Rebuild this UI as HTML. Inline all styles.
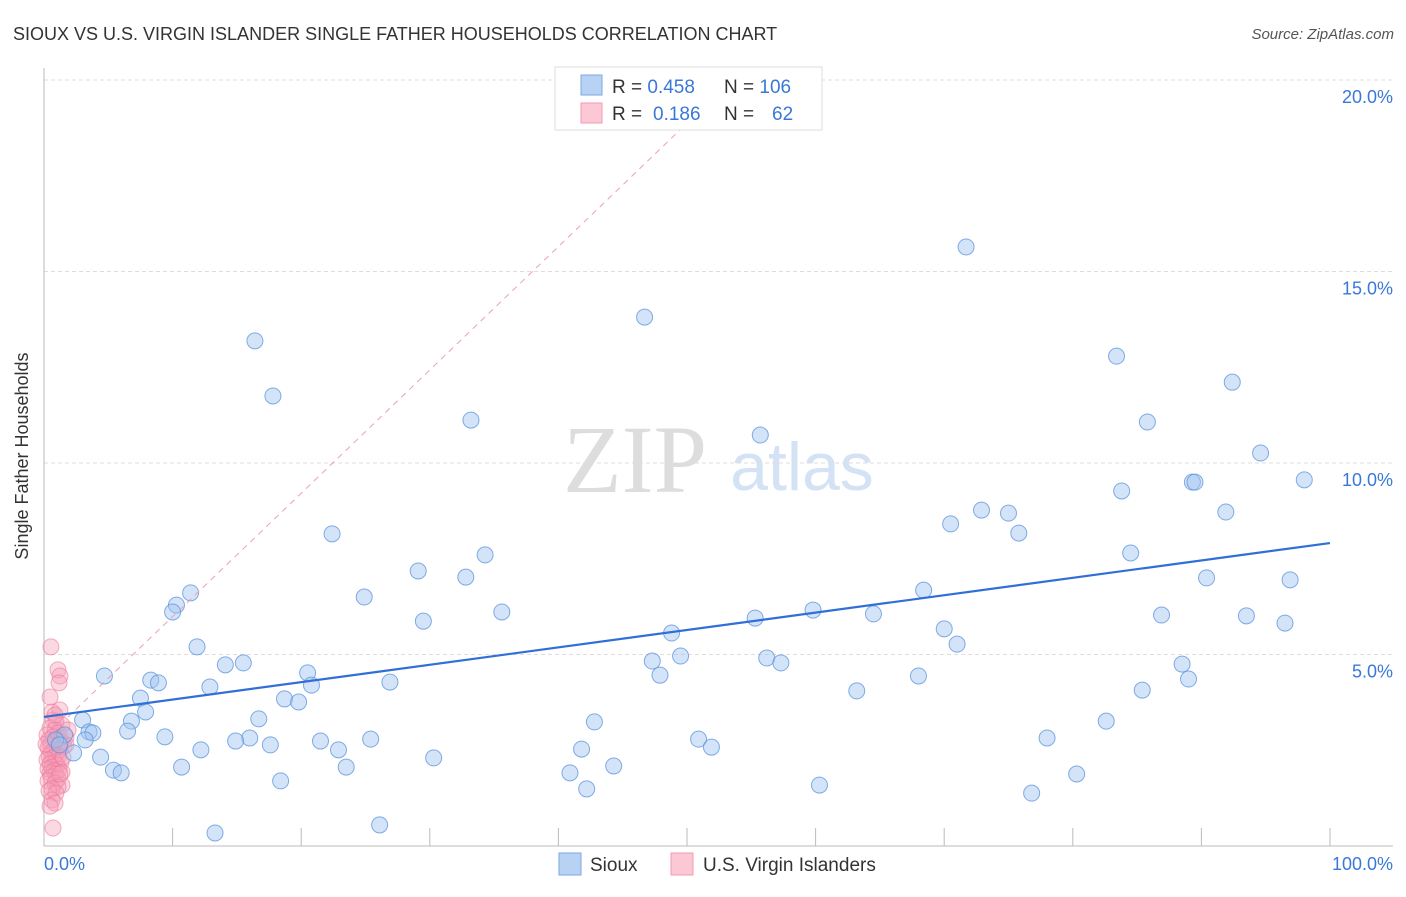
<!DOCTYPE html>
<html><head><meta charset="utf-8"><style>
body{margin:0;background:#fff;width:1406px;height:892px;overflow:hidden;font-family:"Liberation Sans",sans-serif}
svg text{font-family:"Liberation Sans",sans-serif}
</style></head><body>
<svg id="chart" width="1406" height="892">
<text x="13" y="40" font-size="18" fill="#333">SIOUX VS U.S. VIRGIN ISLANDER SINGLE FATHER HOUSEHOLDS CORRELATION CHART</text>
<text x="1394" y="39" font-size="15" fill="#555" font-style="italic" text-anchor="end">Source: ZipAtlas.com</text>
<text x="635" y="492" font-size="96" fill="#ddd" font-family="Liberation Serif" text-anchor="middle" style="font-family:'Liberation Serif',serif">ZIP</text>
<text x="802" y="490" font-size="68" fill="#d3e2f5" text-anchor="middle">atlas</text>
<g id="grid"></g>
<line x1="44" y1="68" x2="44" y2="846" stroke="#bbb"/>
<line x1="44" y1="846" x2="1393" y2="846" stroke="#bbb"/>
<g id="ticks"></g>
<text x="28" y="456" font-size="18" fill="#333" text-anchor="middle" transform="rotate(-90 28 456)">Single Father Households</text>
<text x="44" y="870" font-size="18" fill="#3a78d8">0.0%</text>
<text x="1393" y="870" font-size="18" fill="#3a78d8" text-anchor="end">100.0%</text>
<g id="pinkpts"></g><g id="bluepts"></g><g id="lines"></g>
<g>
<rect x="555" y="67" width="267" height="63" fill="#fff" stroke="#ddd"/>
<rect x="581" y="75" width="21" height="20" fill="#b8d2f3" stroke="#7aa8e6"/>
<rect x="581" y="103" width="21" height="20" fill="#fcc8d6" stroke="#f09ab4"/>
<text x="612" y="93" font-size="19" fill="#333">R = <tspan fill="#3a78d8">0.458</tspan><tspan x="724">N = </tspan><tspan fill="#3a78d8">106</tspan></text>
<text x="612" y="120" font-size="19" fill="#333">R = <tspan x="653" fill="#3a78d8">0.186</tspan><tspan x="724">N = </tspan><tspan x="772" fill="#3a78d8">62</tspan></text>
</g>
<g>
<rect x="559" y="853" width="22" height="22" fill="#b8d2f3" stroke="#7aa8e6"/>
<text x="590" y="871" font-size="19" fill="#333">Sioux</text>
<rect x="671" y="853" width="22" height="22" fill="#fcc8d6" stroke="#f09ab4"/>
<text x="703" y="871" font-size="19" fill="#333">U.S. Virgin Islanders</text>
</g>
</svg>
<script>
const yTicks=[5,10,15,20];
const yTickLabels=["5.0%","10.0%","15.0%","20.0%"];
const xTicks=[10,20,30,40,50,60,70,80,90,100];
const blueX=[16.4,17.8,46.7,71.7,33.2,55.7,83.4,92.4,85.8,94.6,89.3,89.5,98.0,83.8,70.5,72.9,75.0,91.9,75.8,22.4,84.5,34.3,29.1,32.8,11.4,10.3,10.0,24.9,35.6,29.5,68.4,90.4,96.9,59.8,55.3,64.5,86.9,93.5,96.5,70.0,48.8,71.0,11.9,47.3,49.5,56.2,57.3,15.5,14.1,47.9,88.5,89.0,4.7,20.5,8.3,8.9,20.8,12.9,26.9,63.2,68.0,85.4,7.5,18.7,19.8,7.9,3.0,6.8,16.7,42.8,82.6,3.5,3.8,6.5,9.4,16.0,14.9,21.5,25.4,78.0,50.9,17.6,12.2,22.9,41.8,51.9,2.3,4.4,30.3,10.7,23.5,44.3,5.4,6.0,40.9,80.3,18.4,42.2,60.3,76.8,13.3,26.1,1.6,0.9,1.2,3.2];
const blueY=[13.19,11.75,13.81,15.64,11.12,10.73,12.79,12.11,11.07,10.26,9.50,9.50,9.56,9.27,8.41,8.77,8.69,8.72,8.17,8.15,7.65,7.60,7.18,7.02,6.61,6.29,6.11,6.50,6.11,5.87,6.68,7.00,6.95,6.16,5.95,6.06,6.03,6.01,5.82,5.67,5.56,5.27,5.20,4.83,4.96,4.91,4.78,4.78,4.73,4.46,4.75,4.36,4.44,4.52,4.33,4.26,4.20,4.15,4.28,4.05,4.44,4.07,3.86,3.84,3.76,3.50,3.29,3.26,3.32,3.24,3.26,2.98,2.95,3.00,2.85,2.82,2.74,2.74,2.79,2.82,2.79,2.64,2.51,2.51,2.53,2.58,2.43,2.32,2.30,2.06,2.06,2.09,1.98,1.91,1.91,1.88,1.70,1.49,1.59,1.38,0.34,0.55,2.90,2.77,2.64,2.77];
const pinkX=[0.54,1.09,1.24,1.17,0.62,1.24,0.7,0.93,1.4,0.47,0.86,1.09,0.23,0.7,1.24,1.71,0.39,0.86,1.32,0.47,1.01,1.56,0.31,0.78,1.24,0.62,0.93,0.39,1.09,0.7,0.23,0.86,1.32,0.47,1.01,0.62,0.31,1.17,0.78,0.47,0.93,1.4,0.54,1.09,0.31,0.86,1.4,1.09,0.62,0.39,0.93,0.62,0.86,0.47,1.24,1.71,1.48,0.16,1.87,0.86,0.47,0.7];
const pinkY=[5.20,4.60,4.44,4.26,3.50,3.55,3.29,3.24,3.16,3.08,3.03,2.95,2.90,2.85,2.82,2.85,2.77,2.72,2.72,2.64,2.61,2.61,2.56,2.51,2.51,2.45,2.40,2.35,2.32,2.30,2.25,2.19,2.19,2.14,2.11,2.06,2.01,2.01,1.96,1.91,1.88,1.93,1.80,1.75,1.70,1.64,1.59,1.54,1.49,1.44,1.38,1.20,1.12,1.04,1.88,2.64,2.32,2.66,3.03,3.42,3.89,0.47];
const blueTrend=[3.37,7.91];
const pinkTrend=[2.77,0.322];
const NS="http://www.w3.org/2000/svg";
const sx=v=>44+v*12.86, sy=v=>846-v*38.3;
function mk(t,a,p){const e=document.createElementNS(NS,t);for(const k in a)e.setAttribute(k,a[k]);document.getElementById(p).appendChild(e);return e;}
yTicks.forEach((t,i)=>{
 const l=mk('line',{x1:44,x2:1393,y1:sy(t),y2:sy(t),stroke:'#ddd','stroke-dasharray':'4,3'},'grid');
 
 
 const tx=mk('text',{x:1393,y:sy(t)+23,'font-size':18,fill:'#3a78d8','text-anchor':'end'},'grid');
 tx.textContent=yTickLabels[i];
 
 
});
xTicks.forEach(t=>{
 const l=mk('line',{x1:sx(t),x2:sx(t),y1:828,y2:846,stroke:'#bbb'},'ticks');
 
 
});
pinkX.forEach((x,i)=>{
 const c=mk('circle',{cx:sx(x),cy:sy(pinkY[i]),r:8,fill:'rgba(246,160,186,0.4)',stroke:'rgba(238,120,155,0.6)','stroke-width':1},'pinkpts');
 
 
});
blueX.forEach((x,i)=>{
 const c=mk('circle',{cx:sx(x),cy:sy(blueY[i]),r:8,fill:'rgba(160,196,240,0.45)',stroke:'rgba(90,145,220,0.75)','stroke-width':1},'bluepts');
 
 
});
const pl=mk('line',{x1:sx(0),y1:sy(pinkTrend[0]),x2:sx(53),y2:sy(pinkTrend[0]+pinkTrend[1]*53),stroke:'#eaa0b6','stroke-width':1,'stroke-dasharray':'6,5'},'lines');


const bl=mk('line',{x1:sx(0),y1:sy(blueTrend[0]),x2:sx(100),y2:sy(blueTrend[1]),stroke:'#2f6fd6','stroke-width':2.2},'lines');


</script>
</body></html>
